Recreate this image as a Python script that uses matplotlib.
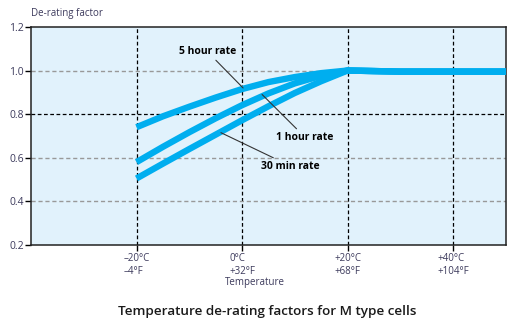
import matplotlib.pyplot as plt

# --- Data ---
TEMP_C = [-20, -15, -10, -5, 0, 5, 10, 15, 20, 30, 40, 50]
RATE_5H = [0.74, 0.79, 0.834, 0.876, 0.915, 0.947, 0.97, 0.988, 1.0, 0.995, 0.995, 0.995]
RATE_1H = [0.58, 0.65, 0.717, 0.781, 0.841, 0.895, 0.941, 0.976, 1.0, 0.995, 0.995, 0.995]
RATE_30M = [0.505, 0.573, 0.64, 0.706, 0.772, 0.836, 0.897, 0.951, 1.0, 0.995, 0.995, 0.995]

X_TICKS = [-20, 0, 20, 40]
X_LABELS = ["\u201320\u00b0C\n\u20134\u00b0F", "0\u00b0C\n+32\u00b0F",
            "+20\u00b0C\n+68\u00b0F", "+40\u00b0C\n+104\u00b0F"]
Y_TICKS = [0.2, 0.4, 0.6, 0.8, 1.0, 1.2]

# --- Style ---
LINE_COLOR = "#00AEEF"
BG_COLOR = "#E1F2FC"
TICK_COLOR = "#3C3A5C"
FONT = ["Open Sans", "DejaVu Sans"]

plt.rcParams["font.family"] = FONT

fig = plt.figure(figsize=(5.19, 3.28), dpi=100)
ax = fig.add_axes([0.0597, 0.253, 0.915, 0.665])
ax.set_facecolor(BG_COLOR)

for ys in (RATE_5H, RATE_1H, RATE_30M):
    ax.plot(TEMP_C, ys, color=LINE_COLOR, linewidth=4.6,
            solid_capstyle="butt", solid_joinstyle="round", zorder=4)

ax.set_xlim(-40, 50)
ax.set_ylim(0.2, 1.2)

# grid: vertical black dashed, horizontal mixed
for x in X_TICKS:
    ax.axvline(x, color="black", linestyle=(0, (3, 2)), linewidth=0.9, zorder=2)
for y in (0.4, 0.6, 1.0):
    ax.axhline(y, color="#999999", linestyle=(0, (3, 2)), linewidth=1.0, zorder=2)
ax.axhline(0.8, color="black", linestyle=(0, (3, 2)), linewidth=0.9, zorder=2)

ax.set_xticks(X_TICKS)
ax.set_xticklabels(X_LABELS, fontsize=7, color=TICK_COLOR, linespacing=1.25,
                   multialignment="left")
ax.set_yticks(Y_TICKS)
ax.set_yticklabels([f"{v:.1f}" for v in Y_TICKS], fontsize=7.5, color=TICK_COLOR)
ax.tick_params(axis="both", direction="out", length=4, width=1.0, color="black")
ax.tick_params(axis="x", pad=2)
ax.tick_params(axis="y", pad=1)
for spine in ax.spines.values():
    spine.set_linewidth(1.1)
    spine.set_color("#222222")

fig.text(255 / 519, 1 - 283 / 328, "Temperature", fontsize=7, color=TICK_COLOR,
         ha="center", va="center")
ax.text(0.0, 1.035, "De-rating factor", transform=ax.transAxes,
        fontsize=7, color=TICK_COLOR, ha="left", va="bottom")

# annotations
ann = dict(fontsize=7.5, fontweight="bold", color="black", zorder=6,
           arrowprops=dict(arrowstyle="-", color="#333333", linewidth=0.8,
                           shrinkA=0, shrinkB=0))
ax.annotate("5 hour rate", xy=(0.2, 0.92), xytext=(-6.5, 1.085),
            ha="center", va="center", **ann)
ax.annotate("1 hour rate", xy=(3.8, 0.89), xytext=(11.9, 0.695),
            ha="center", va="center", **ann)
ax.annotate("30 min rate", xy=(-4.0, 0.715), xytext=(9.2, 0.562),
            ha="center", va="center", **ann)

fig.text(0.514, 1 - 312 / 328, "Temperature de-rating factors for M type cells",
         fontsize=9.7, fontweight="semibold", ha="center", va="center",
         color="#1a1a1a")

fig.savefig("out.png", dpi=100)
